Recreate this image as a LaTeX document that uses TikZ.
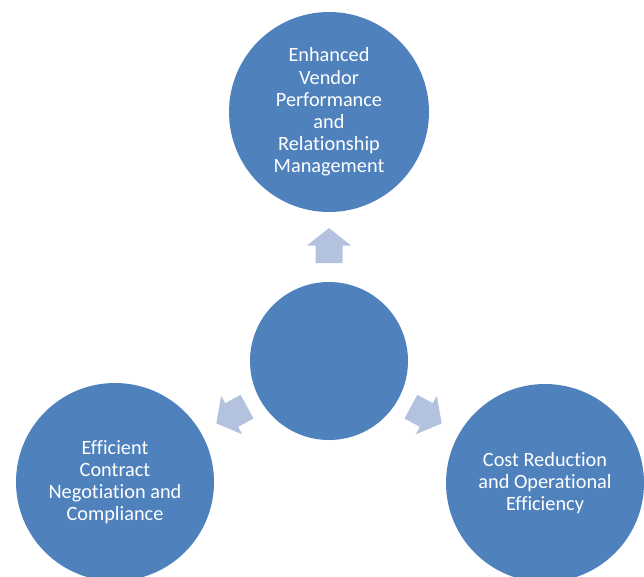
\documentclass[tikz,border=0pt]{standalone}
\usepackage{fontspec}
\setmainfont{Carlito}[Ligatures=NoCommon]
\definecolor{circblue}{HTML}{4F81BD}
\definecolor{arrowblue}{HTML}{B3C3DF}

\begin{document}
\begin{tikzpicture}[x=1pt, y=-1pt,
      every node/.style={circle, fill=circblue, text=white, inner sep=0pt, align=center,
        font=\fontsize{20.3}{22.2}\selectfont},
      blockarrow/.pic={
        \fill[arrowblue] (-17.5,-13.5) -- (0,-13.5) -- (0,-22) -- (17.5,0)
          -- (0,22) -- (0,13.5) -- (-17.5,13.5) -- cycle;
      }
    ]
    \useasboundingbox (0,0) rectangle (644,576);
    \clip (0,0) rectangle (644,576);

    % centre circle
    \node[minimum size=158pt] (hub) at (329,361) {};

    % outer circles
    \node[minimum size=200pt] (vendor) at (329,112)
      {Enhanced\\Vendor\\Performance\\and\\Relationship\\Management};
    \node[minimum size=198pt] (contract) at (115,482)
      {Efficient\\Contract\\Negotiation and\\Compliance};
    \node[minimum size=198pt] (cost) at (545,483)
      {Cost Reduction\\and Operational\\Efficiency};

    % block arrows pointing outwards
    \pic[rotate=90] at (329,245.5) {blockarrow};
    \pic[rotate=208.6] at (231.7,415) {blockarrow};
    \pic[rotate=-28.6] at (426.3,415) {blockarrow};

\end{tikzpicture}
\end{document}
